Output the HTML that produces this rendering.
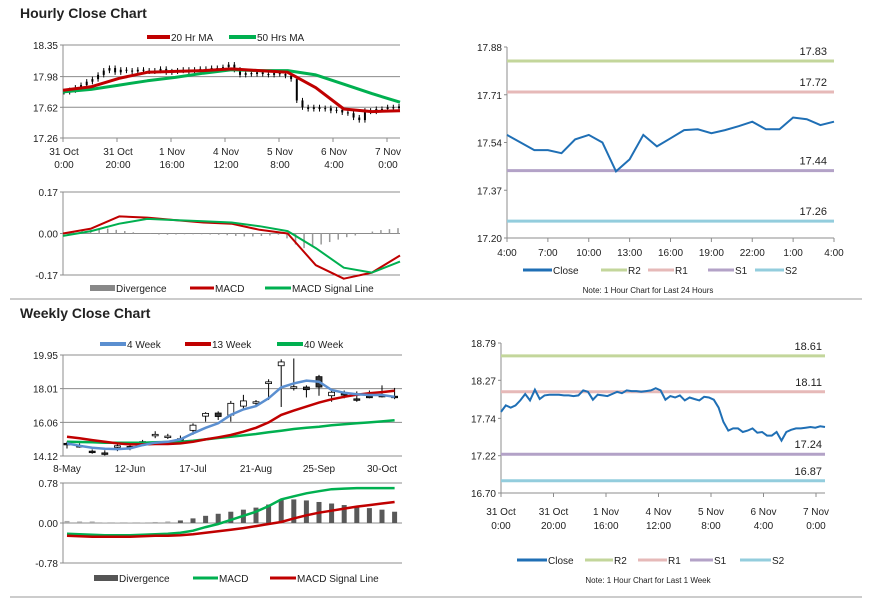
<!DOCTYPE html>
<html><head><meta charset="utf-8">
<style>
html,body{margin:0;padding:0;background:#fff;}
svg{display:block;font-family:"Liberation Sans",Arial,sans-serif;}
text{fill:#222;}
</style></head>
<body>
<svg id="chart" width="873" height="601" viewBox="0 0 873 601" xmlns="http://www.w3.org/2000/svg">
<rect x="0" y="0" width="873" height="601" fill="#fff"/>
<text x="20" y="18" font-size="14" font-weight="bold">Hourly Close Chart</text>
<text x="20" y="318" font-size="14" font-weight="bold">Weekly Close Chart</text>
<line x1="10" y1="299" x2="862" y2="299" stroke="#999" stroke-width="1"/>
<line x1="10" y1="597" x2="862" y2="597" stroke="#999" stroke-width="1"/>

<g font-size="10">
<line x1="147" y1="37" x2="170" y2="37" stroke="#c00000" stroke-width="4"/>
<text x="171" y="41">20 Hr MA</text>
<line x1="229" y1="37" x2="256" y2="37" stroke="#00b050" stroke-width="4"/>
<text x="257" y="41">50 Hrs MA</text>
</g>
<g font-size="10">
<rect x="90" y="285" width="25" height="6" fill="#888"/>
<text x="116" y="292">Divergence</text>
<line x1="190" y1="288" x2="214" y2="288" stroke="#c00000" stroke-width="3"/>
<text x="215" y="292">MACD</text>
<line x1="265" y1="288" x2="291" y2="288" stroke="#00b050" stroke-width="3"/>
<text x="292" y="292">MACD Signal Line</text>
</g>
<g font-size="10">
<line x1="100" y1="344" x2="126" y2="344" stroke="#5b8fd0" stroke-width="4"/>
<text x="127" y="348">4 Week</text>
<line x1="185" y1="344" x2="211" y2="344" stroke="#c00000" stroke-width="4"/>
<text x="212" y="348">13 Week</text>
<line x1="277" y1="344" x2="303" y2="344" stroke="#00b050" stroke-width="4"/>
<text x="304" y="348">40 Week</text>
</g>
<g font-size="10">
<rect x="94" y="575" width="24" height="6" fill="#555"/>
<text x="119" y="582">Divergence</text>
<line x1="193" y1="578" x2="218" y2="578" stroke="#00b050" stroke-width="3"/>
<text x="219" y="582">MACD</text>
<line x1="270" y1="578" x2="296" y2="578" stroke="#c00000" stroke-width="3"/>
<text x="297" y="582">MACD Signal Line</text>
</g>
<g font-size="10">
<line x1="523" y1="270" x2="552" y2="270" stroke="#1f6fb5" stroke-width="3"/>
<text x="553" y="274">Close</text>
<line x1="601" y1="270" x2="627" y2="270" stroke="#c3d69b" stroke-width="3"/>
<text x="628" y="274">R2</text>
<line x1="648" y1="270" x2="674" y2="270" stroke="#e6b9b8" stroke-width="3"/>
<text x="675" y="274">R1</text>
<line x1="708" y1="270" x2="734" y2="270" stroke="#b3a2c7" stroke-width="3"/>
<text x="735" y="274">S1</text>
<line x1="755" y1="270" x2="784" y2="270" stroke="#93cddd" stroke-width="3"/>
<text x="785" y="274">S2</text>
<text x="648" y="293" font-size="8" text-anchor="middle">Note: 1 Hour Chart for Last 24 Hours</text>
</g>
<g font-size="10">
<line x1="517" y1="560" x2="547" y2="560" stroke="#1f6fb5" stroke-width="3"/>
<text x="548" y="564">Close</text>
<line x1="585" y1="560" x2="613" y2="560" stroke="#c3d69b" stroke-width="3"/>
<text x="614" y="564">R2</text>
<line x1="638" y1="560" x2="667" y2="560" stroke="#e6b9b8" stroke-width="3"/>
<text x="668" y="564">R1</text>
<line x1="690" y1="560" x2="713" y2="560" stroke="#b3a2c7" stroke-width="3"/>
<text x="714" y="564">S1</text>
<line x1="740" y1="560" x2="771" y2="560" stroke="#93cddd" stroke-width="3"/>
<text x="772" y="564">S2</text>
<text x="648" y="583" font-size="8" text-anchor="middle">Note: 1 Hour Chart for Last 1 Week</text>
</g>
</svg>
<script>
// ---------- data ----------
const hourlyCloses = [17.80,17.82,17.85,17.88,17.92,17.95,18.00,18.05,18.08,18.03,18.06,18.05,18.04,18.06,18.05,18.04,18.05,18.07,18.03,18.04,18.05,18.06,18.04,18.06,18.07,18.06,18.08,18.07,18.09,18.12,18.06,18.00,18.02,18.01,18.03,18.01,18.00,18.02,18.01,17.99,17.95,17.70,17.62,17.60,17.62,17.60,17.61,17.58,17.59,17.56,17.55,17.50,17.47,17.58,17.57,17.60,17.60,17.62,17.61,17.63];
const hourlyMA20 = [17.82,17.86,17.96,18.03,18.04,18.05,18.07,18.05,18.03,17.85,17.60,17.57,17.58];
const hourlyMA50 = [17.80,17.83,17.88,17.93,17.97,18.02,18.06,18.05,18.05,18.00,17.89,17.78,17.68];
const hourlyTicks = ["18.35","17.98","17.62","17.26"];
const hourlyXLabels = [["31 Oct","0:00"],["31 Oct","20:00"],["1 Nov","16:00"],["4 Nov","12:00"],["5 Nov","8:00"],["6 Nov","4:00"],["7 Nov","0:00"]];
const hMacd = [0.00,0.02,0.07,0.065,0.055,0.045,0.04,0.015,0.00,-0.13,-0.185,-0.16,-0.09];
const hSignal = [-0.01,0.01,0.04,0.06,0.055,0.05,0.045,0.03,0.01,-0.06,-0.14,-0.16,-0.115];
const hDiverg = [0,0.005,0.01,0.015,0.02,0.02,0.015,0.01,0.005,0,-0.002,-0.004,-0.005,-0.004,-0.003,-0.003,-0.003,-0.004,-0.005,-0.007,-0.01,-0.012,-0.012,-0.01,-0.008,-0.005,-0.02,-0.045,-0.06,-0.055,-0.045,-0.035,-0.025,-0.015,-0.008,0,0.008,0.014,0.018,0.022];
const hMacdTicks = ["0.17","0.00","-0.17"];

const wOpen  = [14.85,14.72,14.40,14.30,14.70,14.67,14.93,15.35,15.25,15.12,15.60,16.42,16.60,16.48,17.00,17.23,18.30,19.33,18.10,18.10,18.70,17.60,17.72,17.42,17.57,17.62,17.57];
const wClose = [14.81,14.70,14.37,14.29,14.71,14.66,14.95,15.37,15.27,15.10,15.90,16.58,16.40,17.16,17.30,17.25,18.40,19.55,18.12,17.95,18.10,17.80,17.70,17.39,17.55,17.60,17.55];
const wHigh  = [14.95,14.85,14.50,14.45,14.90,14.85,15.05,15.55,15.40,15.30,16.00,16.65,16.70,17.30,17.65,17.35,18.55,19.70,19.75,18.20,18.80,18.00,17.90,17.85,17.90,18.20,18.05];
const wLow   = [14.55,14.60,14.25,14.15,14.40,14.45,14.85,15.15,15.10,14.95,15.35,16.10,16.20,16.10,16.75,17.05,17.35,16.95,17.90,17.50,17.60,17.25,17.45,17.25,17.45,17.50,17.40];
const w4 = [14.85,14.71,14.60,14.54,14.52,14.56,14.75,14.89,14.94,15.08,15.43,15.75,16.01,16.49,16.81,17.00,17.45,18.08,18.31,18.47,18.41,17.93,17.77,17.68,17.64,17.64,17.54];
const w13 = [15.23,15.14,15.04,14.94,14.85,14.79,14.79,14.81,14.81,14.85,14.94,15.08,15.20,15.33,15.52,15.75,16.06,16.49,16.74,16.97,17.20,17.39,17.54,17.66,17.74,17.81,17.89];
const w40 = [14.94,14.93,14.91,14.89,14.89,14.89,14.89,14.91,14.93,14.94,15.00,15.08,15.16,15.23,15.31,15.39,15.49,15.58,15.68,15.75,15.81,15.89,15.95,16.01,16.06,16.12,16.18];
const weeklyTicks = ["19.95","18.01","16.06","14.12"];
const weeklyXLabels = ["8-May","12-Jun","17-Jul","21-Aug","25-Sep","30-Oct"];
const wMacd = [-0.21,-0.22,-0.23,-0.24,-0.24,-0.24,-0.23,-0.22,-0.21,-0.19,-0.15,-0.08,-0.02,0.06,0.14,0.22,0.33,0.46,0.52,0.58,0.62,0.66,0.67,0.68,0.68,0.68,0.68];
const wSignal = [-0.25,-0.26,-0.27,-0.27,-0.27,-0.27,-0.26,-0.25,-0.25,-0.24,-0.22,-0.19,-0.16,-0.13,-0.10,-0.06,-0.02,0.02,0.09,0.15,0.20,0.24,0.28,0.32,0.35,0.38,0.41];
const wDiverg = [0.04,0.03,0.03,0.01,0.01,0.01,0.01,0.02,0.03,0.05,0.09,0.14,0.18,0.22,0.26,0.30,0.36,0.45,0.46,0.44,0.41,0.38,0.35,0.32,0.29,0.26,0.22];
const wMacdTicks = ["0.78","0.00","-0.78"];

const dayClose = [17.567,17.54,17.513,17.513,17.502,17.551,17.567,17.54,17.437,17.48,17.567,17.526,17.555,17.584,17.587,17.573,17.584,17.598,17.614,17.587,17.587,17.629,17.623,17.602,17.614];
const dayLevels = [17.83,17.72,17.44,17.26];
const dayLevelLabels = ["17.83","17.72","17.44","17.26"];
const dayTicks = ["17.88","17.71","17.54","17.37","17.20"];
const dayXLabels = ["4:00","7:00","10:00","13:00","16:00","19:00","22:00","1:00","4:00"];

const weekClose = [17.83,17.92,17.89,17.92,17.99,18.08,17.99,18.14,18.01,18.06,18.07,18.07,18.07,18.06,18.06,18.05,18.06,18.13,18.11,18.00,18.07,18.06,18.05,18.08,18.11,18.09,18.13,18.12,18.12,18.11,18.12,18.13,18.16,18.13,18.00,18.05,18.03,18.06,17.99,18.03,18.01,17.99,18.04,18.03,18.00,17.89,17.69,17.57,17.60,17.60,17.55,17.57,17.60,17.54,17.55,17.50,17.50,17.55,17.43,17.55,17.58,17.60,17.60,17.61,17.62,17.61,17.63,17.62];
const weekLevels = [18.61,18.11,17.24,16.87];
const weekLevelLabels = ["18.61","18.11","17.24","16.87"];
const weekTicks = ["18.79","18.27","17.74","17.22","16.70"];
const weekXLabels = [["31 Oct","0:00"],["31 Oct","20:00"],["1 Nov","16:00"],["4 Nov","12:00"],["5 Nov","8:00"],["6 Nov","4:00"],["7 Nov","0:00"]];
const levelColors = ["#c3d69b","#e6b9b8","#b3a2c7","#93cddd"];
const levelNames = ["r2-line","r1-line","s1-line","s2-line"];

// ---------- helpers ----------
const NS = "http://www.w3.org/2000/svg";
const svg = document.getElementById("chart");
function mk(tag, attrs, name, parent) {
  const e = document.createElementNS(NS, tag);
  for (const k in attrs) e.setAttribute(k, attrs[k]);
  
  
  (parent || svg).appendChild(e);
  return e;
}
function txt(x, y, s, name, anchor, size) {
  const t = mk("text", {x: x, y: y, "font-size": size || 10, "text-anchor": anchor || "start"}, name);
  t.textContent = s;
  return t;
}
function linScale(d0, d1, r0, r1) { return v => r0 + (v - d0) * (r1 - r0) / (d1 - d0); }
function pathFrom(vals, xf, yf) { return vals.map((v, i) => (i ? "L" : "M") + xf(i).toFixed(1) + "," + yf(v).toFixed(1)).join(""); }
function axesFrame(x0, x1, yTop, yBot, tickVals, tickLabels, yf, grid, name) {
  tickVals.forEach((v, i) => {
    const y = yf(v);
    if (grid) mk("line", {x1: x0, y1: y, x2: x1, y2: y, stroke: "#8c8c8c", "stroke-width": 1}, name + "-gridline");
    mk("line", {x1: x0 - 3, y1: y, x2: x0, y2: y, stroke: "#8c8c8c"}, name + "-ytick");
    txt(x0 - 5, y + 4, tickLabels[i], name + "-ytick-label", "end");
  });
  mk("line", {x1: x0, y1: yTop, x2: x0, y2: yBot, stroke: "#8c8c8c"}, name + "-y-axis");
  mk("line", {x1: x0, y1: yBot, x2: x1, y2: yBot, stroke: "#8c8c8c"}, name + "-x-axis");
}

// ---------- Hourly price ----------
(function () {
  const x0 = 63, x1 = 400;
  const y = linScale(18.35, 17.26, 45, 138);
  axesFrame(x0, x1, 45, 138, hourlyTicks.map(Number), hourlyTicks, y, true, "hourly-price");
  hourlyXLabels.forEach((l, k) => {
    const x = x0 + k * 54;
    mk("line", {x1: x, y1: 138, x2: x, y2: 142, stroke: "#8c8c8c"}, "hourly-xtick");
    txt(x + 1, 155, l[0], "hourly-xtick-label", "middle");
    txt(x + 1, 168, l[1], "hourly-xtick-label", "middle");
  });
  const xc = i => x0 + 1 + i * (x1 - x0 - 2) / (hourlyCloses.length - 1);
  hourlyCloses.forEach((c, i) => {
    const o = i ? hourlyCloses[i - 1] : c;
    const hi = Math.max(o, c) + 0.03, lo = Math.min(o, c) - 0.03;
    mk("line", {x1: xc(i), y1: y(hi), x2: xc(i), y2: y(lo), stroke: "#000", "stroke-width": 1}, "hourly-candle-wick");
    mk("rect", {x: xc(i) - 1, y: y(Math.max(o, c)), width: 2, height: Math.max(1, Math.abs(y(o) - y(c))), fill: "#000"}, "hourly-candle");
  });
  const xm = i => x0 + i * (x1 - x0) / (hourlyMA50.length - 1);
  mk("path", {d: pathFrom(hourlyMA50, xm, y), fill: "none", stroke: "#00b050", "stroke-width": 3, "stroke-linejoin": "round"}, "ma50-line");
  mk("path", {d: pathFrom(hourlyMA20, xm, y), fill: "none", stroke: "#c00000", "stroke-width": 3, "stroke-linejoin": "round"}, "ma20-line");
})();

// ---------- Hourly MACD ----------
(function () {
  const x0 = 63, x1 = 400;
  const y = linScale(0.17, -0.17, 192, 275);
  axesFrame(x0, x1, 192, 275, hMacdTicks.map(Number), hMacdTicks, y, true, "hourly-macd");
  const xd = i => x0 + 2 + i * (x1 - x0 - 4) / (hDiverg.length - 1);
  hDiverg.forEach((v, i) => {
    mk("rect", {x: xd(i) - 0.75, y: Math.min(y(0), y(v)), width: 1.5, height: Math.abs(y(v) - y(0)), fill: "#999"}, "hourly-divergence-bar");
  });
  const xm = i => x0 + i * (x1 - x0) / (hMacd.length - 1);
  mk("path", {d: pathFrom(hMacd, xm, y), fill: "none", stroke: "#c00000", "stroke-width": 2, "stroke-linejoin": "round"}, "hourly-macd-line");
  mk("path", {d: pathFrom(hSignal, xm, y), fill: "none", stroke: "#00b050", "stroke-width": 2, "stroke-linejoin": "round"}, "hourly-signal-line");
})();

// ---------- Weekly price ----------
(function () {
  const x0 = 63, x1 = 402;
  const y = linScale(19.95, 14.12, 355, 456);
  axesFrame(x0, x1, 355, 456, weeklyTicks.map(Number), weeklyTicks, y, true, "weekly-price");
  const xw = i => 67 + i * 12.6;
  weeklyXLabels.forEach((l, k) => {
    const x = xw(k * 5);
    txt(x, 472, l, "weekly-xtick-label", "middle");
  });
  wClose.forEach((c, i) => {
    const o = wOpen[i];
    mk("line", {x1: xw(i), y1: y(wHigh[i]), x2: xw(i), y2: y(wLow[i]), stroke: "#000"}, "weekly-candle-wick");
    mk("rect", {x: xw(i) - 3, y: y(Math.max(o, c)), width: 6, height: Math.max(1.5, Math.abs(y(o) - y(c))), fill: c >= o ? "#fff" : "#333", stroke: "#000", "stroke-width": 0.8}, "weekly-candle");
  });
  mk("path", {d: pathFrom(w40, xw, y), fill: "none", stroke: "#00b050", "stroke-width": 2.5}, "ma40-week-line");
  mk("path", {d: pathFrom(w13, xw, y), fill: "none", stroke: "#c00000", "stroke-width": 2.5}, "ma13-week-line");
  mk("path", {d: pathFrom(w4, xw, y), fill: "none", stroke: "#5b8fd0", "stroke-width": 2.5}, "ma4-week-line");
})();

// ---------- Weekly MACD ----------
(function () {
  const x0 = 63, x1 = 402;
  const y = linScale(0.78, -0.78, 483, 563);
  axesFrame(x0, x1, 483, 563, wMacdTicks.map(Number), wMacdTicks, y, true, "weekly-macd");
  const xw = i => 67 + i * 12.6;
  wDiverg.forEach((v, i) => {
    mk("rect", {x: xw(i) - 2.5, y: Math.min(y(0), y(v)), width: 5, height: Math.abs(y(v) - y(0)), fill: i < 9 ? "#aaa" : "#595959"}, "weekly-divergence-bar");
  });
  mk("path", {d: pathFrom(wMacd, xw, y), fill: "none", stroke: "#00b050", "stroke-width": 2.5}, "weekly-macd-line");
  mk("path", {d: pathFrom(wSignal, xw, y), fill: "none", stroke: "#c00000", "stroke-width": 2.5}, "weekly-signal-line");
})();

// ---------- Daily levels (last 24h) ----------
(function () {
  const x0 = 507, x1 = 834;
  const y = linScale(17.88, 17.20, 47, 238);
  axesFrame(x0, x1, 47, 238, dayTicks.map(Number), dayTicks, y, false, "day-levels");
  const xr = i => x0 + i * (x1 - x0) / (dayClose.length - 1);
  dayXLabels.forEach((l, k) => {
    const x = xr(k * 3);
    mk("line", {x1: x, y1: 238, x2: x, y2: 242, stroke: "#8c8c8c"}, "day-xtick");
    txt(x, 256, l, "day-xtick-label", "middle");
  });
  dayLevels.forEach((v, i) => {
    mk("line", {x1: x0, y1: y(v), x2: x1, y2: y(v), stroke: levelColors[i], "stroke-width": 3}, "day-" + levelNames[i]);
    txt(827, y(v) - 6, dayLevelLabels[i], "day-level-label", "end", 11);
  });
  mk("path", {d: pathFrom(dayClose, xr, y), fill: "none", stroke: "#1f6fb5", "stroke-width": 2}, "day-close-line");
})();

// ---------- Weekly levels (last 1 week) ----------
(function () {
  const x0 = 501, x1 = 825;
  const y = linScale(18.79, 16.70, 343, 493);
  axesFrame(x0, x1, 343, 493, weekTicks.map(Number), weekTicks, y, false, "week-levels");
  weekXLabels.forEach((l, k) => {
    const x = x0 + k * 52.5;
    mk("line", {x1: x, y1: 493, x2: x, y2: 497, stroke: "#8c8c8c"}, "week-xtick");
    txt(x, 515, l[0], "week-xtick-label", "middle");
    txt(x, 529, l[1], "week-xtick-label", "middle");
  });
  weekLevels.forEach((v, i) => {
    mk("line", {x1: x0, y1: y(v), x2: x1, y2: y(v), stroke: levelColors[i], "stroke-width": 3}, "week-" + levelNames[i]);
    txt(822, y(v) - 6, weekLevelLabels[i], "week-level-label", "end", 11);
  });
  const xr = i => x0 + i * (x1 - x0) / (weekClose.length - 1);
  mk("path", {d: pathFrom(weekClose, xr, y), fill: "none", stroke: "#1f6fb5", "stroke-width": 2}, "week-close-line");
})();
</script>
</body></html>
